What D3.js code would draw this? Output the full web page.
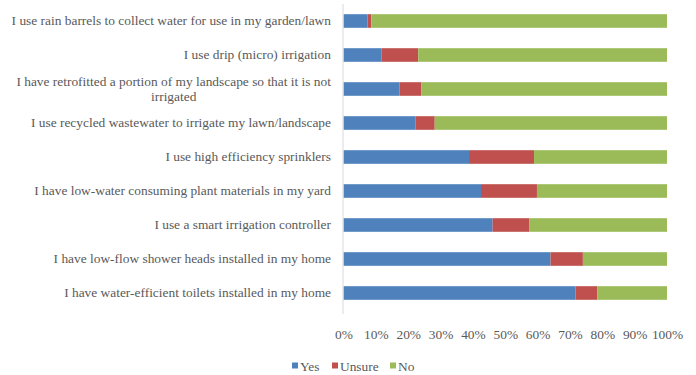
<!DOCTYPE html>
<html>
<head>
<meta charset="utf-8">
<script src="https://cdn.jsdelivr.net/npm/d3@7"></script>
<style>
  html, body { margin: 0; padding: 0; background: #ffffff; }
  svg { display: block; }
</style>
</head>
<body>
<svg id="chart" width="696" height="375"></svg>
<script>
// Survey statements (top to bottom) with share of responses in percent
const categories = [
  "I use rain barrels to collect water for use in my garden/lawn",
  "I use drip (micro) irrigation",
  "I have retrofitted a portion of my landscape so that it is not irrigated",
  "I use recycled wastewater to irrigate my lawn/landscape",
  "I use high efficiency sprinklers",
  "I have low-water consuming plant materials in my yard",
  "I use a smart irrigation controller",
  "I have low-flow shower heads installed in my home",
  "I have water-efficient toilets installed in my home"
];
const yesValues    = [7.4, 11.7, 17.3, 22.3, 38.8, 42.5, 46.1, 64.0, 71.7];
const unsureValues = [1.2, 11.4, 6.8, 5.9, 20.1, 17.3, 11.4, 10.0, 6.8];
const noValues     = yesValues.map((y, i) => +(100 - y - unsureValues[i]).toFixed(1));
const seriesNames  = ["Yes", "Unsure", "No"];
const seriesColors = ["#4F81BD", "#C0504D", "#9BBB59"];
const tickValues   = [0, 10, 20, 30, 40, 50, 60, 70, 80, 90, 100];

// Label lines: long statements wrap onto a second line
const labelLines = {
  "I have retrofitted a portion of my landscape so that it is not irrigated":
    ["I have retrofitted a portion of my landscape so that it is not", "irrigated"]
};

const FONT = "'Liberation Serif', 'Times New Roman', 'DejaVu Serif', serif";
const TEXT_COLOR = "#595959";
const FS = 13.4;

const svg = d3.select("#chart");
const margin = { left: 343.5, right: 29, top: 4, bottom: 65 };
const W = 696, H = 375;

const x = d3.scaleLinear().domain([0, 100]).range([margin.left, W - margin.right]);
const y = d3.scaleBand().domain(categories)
  .range([margin.top, H - margin.bottom]).paddingInner(0.6).paddingOuter(0.3);

const rows = categories.map((c, i) => ({ cat: c, Yes: yesValues[i], Unsure: unsureValues[i], No: noValues[i] }));
const stacked = d3.stack().keys(seriesNames)(rows);

// Stacked bars
svg.append("g").selectAll("g")
  .data(stacked).join("g")
  .attr("fill", (d, i) => seriesColors[i])
  .selectAll("rect")
  .data(d => d).join("rect")
  .attr("x", d => x(d[0]))
  .attr("width", d => x(d[1]) - x(d[0]))
  .attr("y", d => y(d.data.cat))
  .attr("height", y.bandwidth());

// Category axis line
svg.append("line")
  .attr("x1", x(0) - 0.5).attr("x2", x(0) - 0.5)
  .attr("y1", margin.top).attr("y2", H - margin.bottom + 4)
  .attr("stroke", "#d9d9d9").attr("stroke-width", 1);

// Category labels, right aligned; wrapped lines are centered on each other
const labelRight = 331;
const labelG = svg.append("g")
  .attr("font-size", FS).attr("font-family", FONT).attr("fill", TEXT_COLOR);
categories.forEach(c => {
  const lines = labelLines[c] || [c];
  const cy = y(c) + y.bandwidth() / 2;
  const lh = 15;
  if (lines.length === 1) {
    labelG.append("text").attr("x", labelRight).attr("y", cy)
      .attr("dy", "0.32em").attr("text-anchor", "end").text(lines[0]);
  } else {
    const first = labelG.append("text").attr("x", labelRight)
      .attr("y", cy - lh / 2).attr("dy", "0.32em").attr("text-anchor", "end").text(lines[0]);
    const w = first.node().getComputedTextLength();
    const mid = labelRight - w / 2;
    for (let k = 1; k < lines.length; k++) {
      labelG.append("text").attr("x", mid).attr("y", cy - lh / 2 + k * lh)
        .attr("dy", "0.32em").attr("text-anchor", "middle").text(lines[k]);
    }
  }
});

// Percent axis
const xAxis = d3.axisBottom(x).tickValues(tickValues)
  .tickFormat(d => d + "%").tickSize(0).tickPadding(0);
const axG = svg.append("g").attr("transform", `translate(0, ${H - margin.bottom + 19})`).call(xAxis);
axG.attr("font-family", FONT).attr("font-size", FS);
axG.select(".domain").remove();
axG.selectAll("text").attr("fill", TEXT_COLOR);

// Legend
const legendItems = [
  { name: "Yes", x: 292 },
  { name: "Unsure", x: 332 },
  { name: "No", x: 390 }
];
const legG = svg.append("g").attr("transform", "translate(0, 366.5)")
  .attr("font-family", FONT).attr("font-size", FS).attr("fill", TEXT_COLOR);
legendItems.forEach((d, i) => {
  legG.append("rect").attr("x", d.x).attr("y", -4).attr("width", 6).attr("height", 6)
    .attr("fill", seriesColors[i]);
  legG.append("text").attr("x", d.x + 8).attr("y", 0).attr("dy", "0.32em").text(d.name);
});
</script>
</body>
</html>
